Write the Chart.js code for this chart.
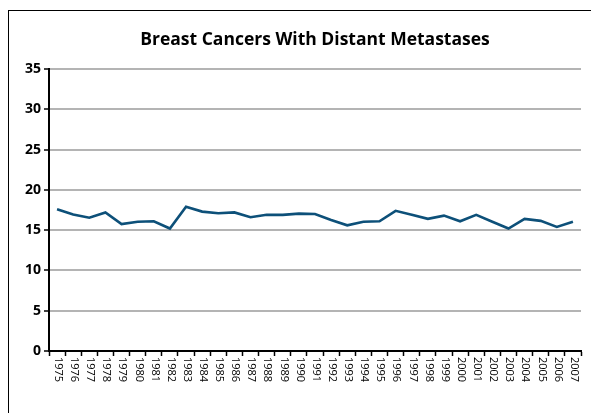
<!DOCTYPE html>
<html>
<head>
<meta charset="utf-8">
<script src="https://cdn.jsdelivr.net/npm/chart.js@4.4.0/dist/chart.umd.min.js"></script>
<style>
  html, body { margin: 0; padding: 0; background: #fff; overflow: hidden; }
  #wrap { position: relative; width: 591px; height: 413px; }
  #frame { position: absolute; left: 8px; top: 10px; width: 640px; height: 460px; border: 1px solid #000; box-sizing: border-box; pointer-events: none; }
  canvas { position: absolute; left: 0; top: 0; }
</style>
</head>
<body>
<div id="wrap">
  <canvas id="chart" width="591" height="413"></canvas>
  <div id="frame"></div>
</div>
<script>
  // Data
  const years = ['1975', '1976', '1977', '1978', '1979', '1980', '1981', '1982', '1983', '1984', '1985',
    '1986', '1987', '1988', '1989', '1990', '1991', '1992', '1993', '1994', '1995', '1996', '1997',
    '1998', '1999', '2000', '2001', '2002', '2003', '2004', '2005', '2006', '2007'];
  const metastases = [17.6, 16.95, 16.55, 17.2, 15.75, 16.05, 16.1, 15.2, 17.9, 17.3, 17.1,
    17.2, 16.6, 16.9, 16.9, 17.05, 17.0, 16.25, 15.6, 16.05, 16.1, 17.4, 16.9,
    16.4, 16.8, 16.1, 16.9, 16.05, 15.2, 16.4, 16.15, 15.4, 16.05];
  const titleText = 'Breast Cancers With Distant Metastases';

  const fontFamily = '"Open Sans", "Noto Sans", sans-serif';

  // Draw x labels rotated clockwise (reading top to bottom)
  const downLabels = {
    id: 'downLabels',
    afterDraw(chart) {
      const scale = chart.scales.x;
      const ctx = chart.ctx;
      ctx.save();
      ctx.font = '11px ' + fontFamily;
      ctx.fillStyle = '#000';
      ctx.textAlign = 'left';
      ctx.textBaseline = 'middle';
      scale.ticks.forEach((t, i) => {
        const x = scale.getPixelForTick(i);
        ctx.save();
        ctx.translate(x + 1, scale.top + 6);
        ctx.rotate(Math.PI / 2);
        ctx.fillText(years[i], 0, 0);
        ctx.restore();
      });
      ctx.restore();
    }
  };

  new Chart(document.getElementById('chart'), {
    type: 'line',
    data: {
      labels: years,
      datasets: [{
        data: metastases,
        borderColor: '#0d5079',
        borderWidth: 2.6,
        pointRadius: 0,
        tension: 0
      }]
    },
    options: {
      responsive: false,
      animation: false,
      layout: { padding: { top: 10, right: 10, left: 0, bottom: 0 } },
      plugins: {
        legend: { display: false },
        tooltip: { enabled: false },
        title: {
          display: true,
          fullSize: false,
          text: titleText,
          color: '#000',
          font: { family: fontFamily, size: 17.5, weight: 'bold' },
          padding: { top: 20, bottom: 18 }
        }
      },
      scales: {
        x: {
          offset: true,
          grid: { offset: true, drawOnChartArea: false, drawTicks: true, tickLength: 5, tickColor: '#000', tickWidth: 1.5 },
          border: { color: '#000', width: 2 },
          ticks: { display: false },
          afterFit: scale => { scale.height = 62; }
        },
        y: {
          min: 0,
          max: 35,
          ticks: {
            stepSize: 5,
            color: '#000',
            padding: 3,
            font: { family: fontFamily, size: 14, weight: 'bold' }
          },
          grid: { color: '#b4b4b4', lineWidth: 2, tickLength: 5, tickColor: '#000', tickWidth: 1.5 },
          border: { color: '#000', width: 2 },
          afterFit: scale => { scale.width = 49; }
        }
      }
    },
    plugins: [downLabels]
  });
</script>
</body>
</html>
